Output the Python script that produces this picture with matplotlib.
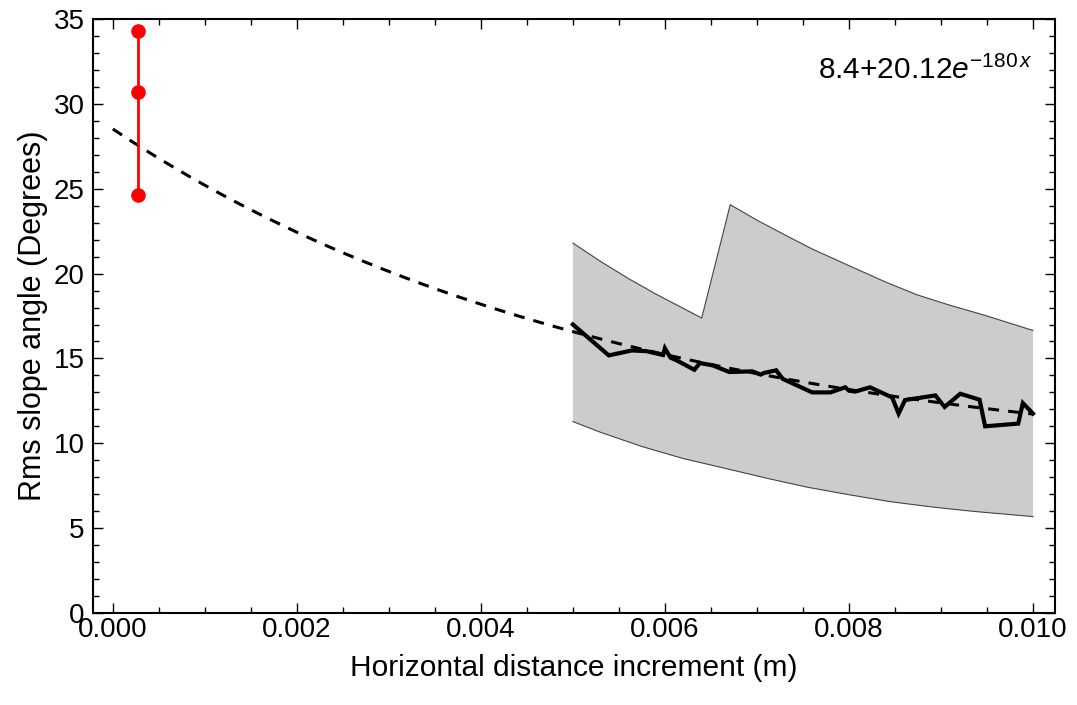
import numpy as np
import matplotlib
matplotlib.use("Agg")
import matplotlib.pyplot as plt
from matplotlib.ticker import MultipleLocator, FormatStrFormatter

plt.rcParams['font.family'] = ['Liberation Sans', 'DejaVu Sans']
plt.rcParams['mathtext.fontset'] = 'custom'
plt.rcParams['mathtext.rm'] = 'Liberation Sans'
plt.rcParams['mathtext.it'] = 'Liberation Sans:italic'

# red measurement (min / mean / max) at the smallest increment
red_x = 0.00027
red_y = [24.65, 30.68, 34.27]

# fit parameters: a + b*exp(-k x)
fit_a = 8.4
fit_b = 20.12
fit_k = 180.0

# grey band, upper edge in two pieces, lower edge
upper1_x = [0.0050, 0.0053, 0.0056, 0.0059, 0.0062, 0.0064]
upper1_y = [21.8, 20.72, 19.72, 18.8, 17.95, 17.38]
upper2_x = [0.00671, 0.0070, 0.0073, 0.0076, 0.00802, 0.0084, 0.00874,
            0.0091, 0.00946, 0.0100]
upper2_y = [24.06, 23.15, 22.29, 21.45, 20.42, 19.5, 18.75,
            18.13, 17.57, 16.65]
lower_x = [0.0050, 0.0053, 0.00575, 0.0062, 0.00665, 0.0071, 0.00755,
           0.0080, 0.00845, 0.0089, 0.00935, 0.0100]
lower_y = [11.28, 10.65, 9.81, 9.1, 8.53, 7.95, 7.41,
           6.97, 6.56, 6.25, 5.99, 5.68]

# measured rms slope curve
data_x = [0.00500, 0.00539, 0.00564, 0.00580, 0.00598, 0.00600, 0.00606,
          0.00613, 0.00632, 0.00638, 0.00652, 0.00670, 0.00695, 0.00704,
          0.00708, 0.00721, 0.00728, 0.00744, 0.00760, 0.00780, 0.00796,
          0.00800, 0.00807, 0.00823, 0.00847, 0.00854, 0.00861, 0.00894,
          0.00904, 0.00921, 0.00942, 0.00948, 0.00984, 0.00989, 0.01000]
data_y = [17.0, 15.18, 15.47, 15.43, 15.2, 15.6, 15.05,
          14.88, 14.33, 14.73, 14.59, 14.2, 14.24, 14.05,
          14.15, 14.3, 13.8, 13.4, 13.0, 13.0, 13.3,
          13.1, 13.05, 13.3, 12.7, 11.75, 12.55, 12.82,
          12.14, 12.92, 12.57, 11.0, 11.16, 12.37, 11.75]


def main():
    fig = plt.figure(figsize=(10.77, 7.05), dpi=100)
    ax = fig.add_axes([0.0864, 0.1305, 0.8932, 0.8425])

    # band
    up_x = upper1_x + upper2_x
    up_y = upper1_y + upper2_y
    poly_x = up_x + lower_x[::-1]
    poly_y = up_y + lower_y[::-1]
    ax.fill(poly_x, poly_y, facecolor='#cccccc', edgecolor='none', zorder=1)
    ax.plot(up_x, up_y, color='#444444', lw=0.8, zorder=2)
    ax.plot(lower_x, lower_y, color='#444444', lw=0.8, zorder=2)

    # fitted curve
    fx = np.linspace(0.0, 0.010, 300)
    ax.plot(fx, fit_a + fit_b * np.exp(-fit_k * fx), color='black', lw=2.2,
            dashes=(3.6, 3.0), zorder=3)

    # data
    ax.plot(data_x, data_y, color='black', lw=3.0, solid_joinstyle='miter',
            zorder=4)

    # red error bar
    ax.plot([red_x] * len(red_y), red_y, color='#ff0000', lw=2.0, marker='o',
            markersize=9.5, zorder=5)

    ax.text(0.977, 0.914, r'8.4+20.12$e^{-180\,x}$', transform=ax.transAxes,
            ha='right', va='center', fontsize=21.5)

    ax.set_xlim(-0.000215, 0.01024)
    ax.set_ylim(0, 35)
    ax.xaxis.set_major_locator(MultipleLocator(0.002))
    ax.xaxis.set_minor_locator(MultipleLocator(0.0005))
    ax.xaxis.set_major_formatter(FormatStrFormatter('%.3f'))
    ax.yaxis.set_major_locator(MultipleLocator(5))
    ax.yaxis.set_minor_locator(MultipleLocator(1))
    ax.tick_params(which='both', direction='in', top=True, right=True,
                   labelsize=20, width=1.0)
    ax.tick_params(axis='x', pad=3)
    ax.tick_params(axis='y', pad=6)
    ax.tick_params(which='major', length=7)
    ax.tick_params(which='minor', length=4)
    for s in ax.spines.values():
        s.set_linewidth(1.5)

    ax.set_xlabel('Horizontal distance increment (m)', fontsize=21.5, labelpad=8)
    ax.set_ylabel('Rms slope angle (Degrees)', fontsize=22, labelpad=4)

    fig.savefig('out.png', dpi=100)


if __name__ == "__main__":
    main()
